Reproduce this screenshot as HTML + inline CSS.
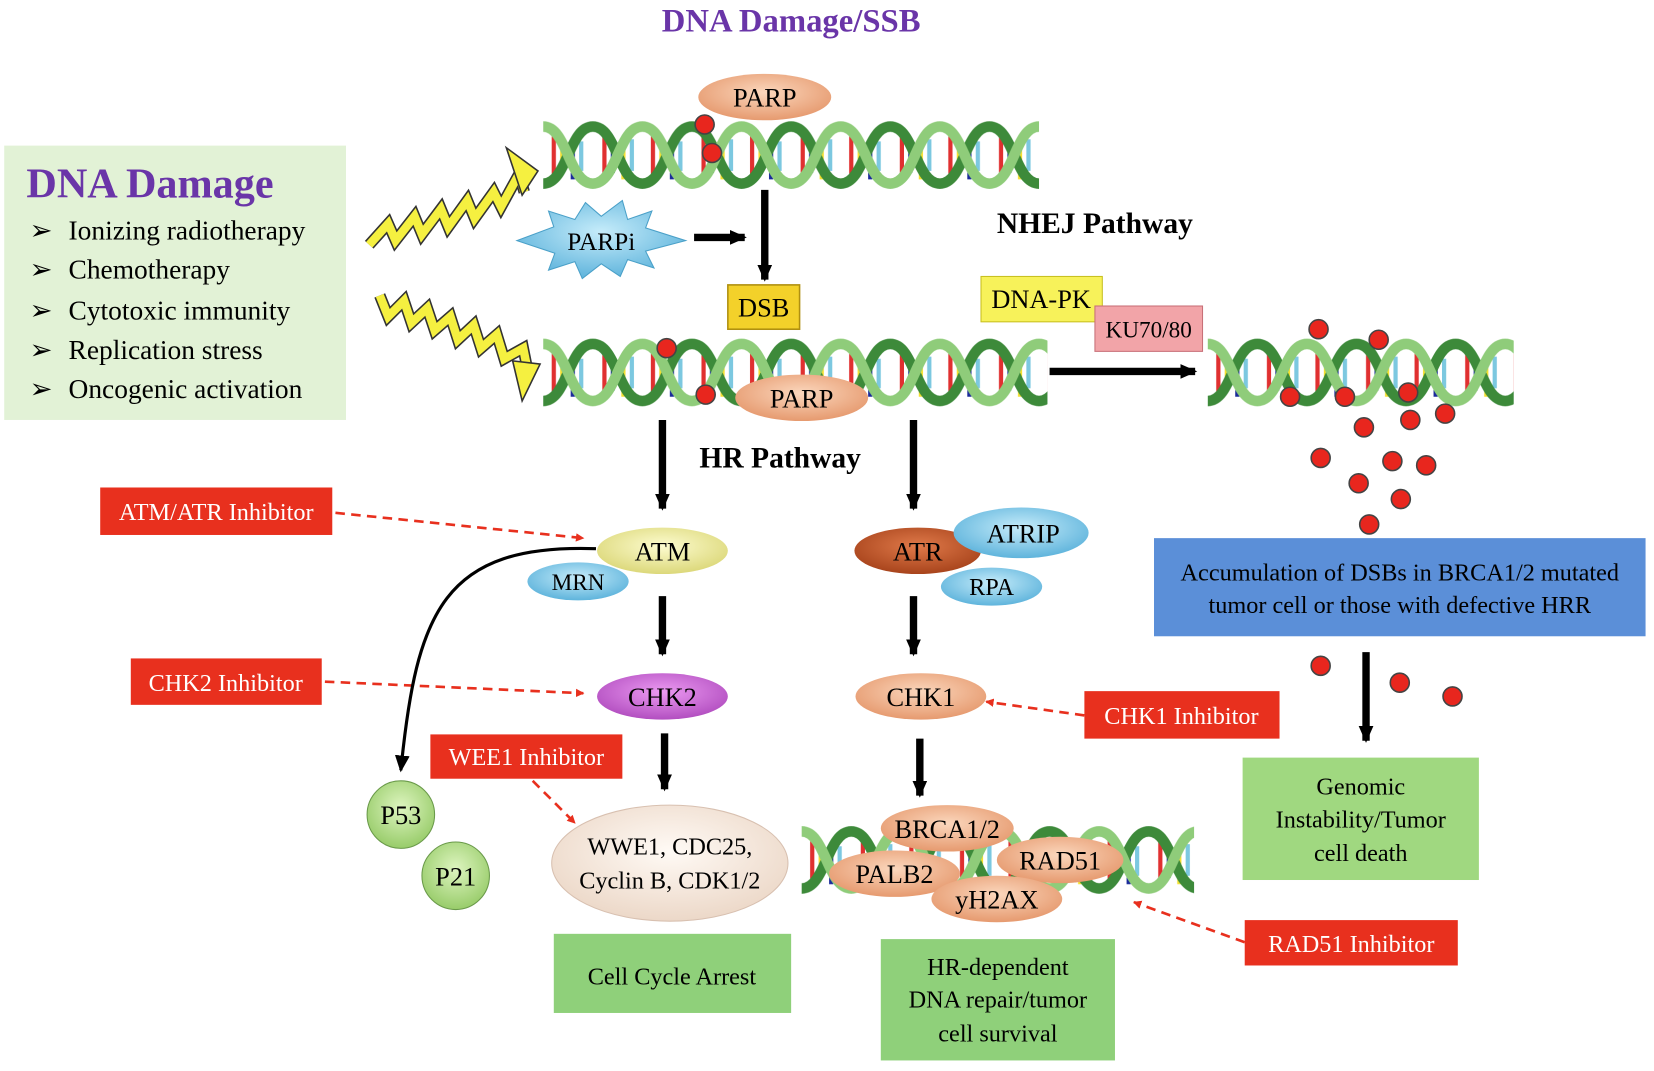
<!DOCTYPE html>
<html><head><meta charset="utf-8"><style>
html,body{margin:0;padding:0;background:#fff;}
svg{display:block;}
text{font-family:"Liberation Serif",serif;}
</style></head><body>
<svg width="1654" height="1071" viewBox="0 0 1568 1015" preserveAspectRatio="none" xmlns="http://www.w3.org/2000/svg">
<defs>
<pattern id="dna" x="0" y="0" width="94" height="66" patternUnits="userSpaceOnUse">
 <g stroke-width="4">
  <line x1="10" y1="14" x2="10" y2="52" stroke="#e03030"/>
  <line x1="18" y1="22" x2="18" y2="50" stroke="#f4e030"/>
  <line x1="28" y1="24" x2="28" y2="56" stroke="#1a2a9a"/>
  <line x1="36" y1="20" x2="36" y2="48" stroke="#7cc8e0"/>
  <line x1="58" y1="14" x2="58" y2="52" stroke="#e03030"/>
  <line x1="66" y1="20" x2="66" y2="50" stroke="#1a2a9a"/>
  <line x1="76" y1="22" x2="76" y2="56" stroke="#f4e030"/>
  <line x1="84" y1="18" x2="84" y2="48" stroke="#7cc8e0"/>
 </g>
 <path d="M0,60 C23,60 24,6 47,6 C70,6 71,60 94,60" fill="none" stroke="#3d8a3a" stroke-width="10"/>
 <path d="M0,6 C23,6 24,60 47,60 C70,60 71,6 94,6" fill="none" stroke="#8fcc7a" stroke-width="10"/>
</pattern>
<radialGradient id="peach" cx="50%" cy="40%" r="60%"><stop offset="0" stop-color="#fbd7bd"/><stop offset="1" stop-color="#e69a6f"/></radialGradient>
<radialGradient id="yel" cx="50%" cy="40%" r="60%"><stop offset="0" stop-color="#fdfcd0"/><stop offset="1" stop-color="#dcd87a"/></radialGradient>
<radialGradient id="blu" cx="50%" cy="40%" r="60%"><stop offset="0" stop-color="#c6ecfa"/><stop offset="1" stop-color="#5fb4dc"/></radialGradient>
<radialGradient id="pur" cx="50%" cy="40%" r="60%"><stop offset="0" stop-color="#ec9af2"/><stop offset="1" stop-color="#b24ec0"/></radialGradient>
<radialGradient id="org" cx="50%" cy="40%" r="60%"><stop offset="0" stop-color="#e07a4a"/><stop offset="1" stop-color="#a8441c"/></radialGradient>
<radialGradient id="grn" cx="50%" cy="40%" r="60%"><stop offset="0" stop-color="#def5c0"/><stop offset="1" stop-color="#98cc6a"/></radialGradient>
<radialGradient id="crm" cx="50%" cy="40%" r="60%"><stop offset="0" stop-color="#fffaf5"/><stop offset="1" stop-color="#ecd8c8"/></radialGradient>
<marker id="ra" markerWidth="8" markerHeight="8" refX="7" refY="4" orient="auto" markerUnits="userSpaceOnUse"><path d="M0,0 L8,4 L0,8 z" fill="#e8301e"/></marker>
<marker id="ka" markerWidth="16" markerHeight="14" refX="14" refY="7" orient="auto" markerUnits="userSpaceOnUse"><path d="M0,0 L16,7 L0,14 z" fill="#000"/></marker>
</defs>

<text x="750" y="30" text-anchor="middle" font-size="31" font-weight="bold" fill="#6a35a8">DNA Damage/SSB</text>

<rect x="4" y="138" width="324" height="260" fill="#e2f2d6"/>
<text x="25" y="187" font-size="40" font-weight="bold" fill="#6a35a8">DNA Damage</text>
<g font-size="26" fill="#000">
<text x="28" y="227">➢</text><text x="65" y="227">Ionizing radiotherapy</text>
<text x="28" y="264">➢</text><text x="65" y="264">Chemotherapy</text>
<text x="28" y="303">➢</text><text x="65" y="303">Cytotoxic immunity</text>
<text x="28" y="340">➢</text><text x="65" y="340">Replication stress</text>
<text x="28" y="377">➢</text><text x="65" y="377">Oncogenic activation</text>
</g>

<polyline points="350,232 368,212 375,228 393,205 400,222 418,198 425,215 443,190 450,207 468,182 475,196 492,165 497,182" fill="none" stroke="#333" stroke-width="11"/>
<polyline points="350,232 368,212 375,228 393,205 400,222 418,198 425,215 443,190 450,207 468,182 475,196 492,165 497,182" fill="none" stroke="#f5f040" stroke-width="8"/>
<path d="M480,140 L510,162 L495,185 z" fill="#f5f040" stroke="#333" stroke-width="1.5"/>
<polyline points="360,280 368,300 383,285 390,306 405,292 412,313 427,300 434,322 449,308 456,330 471,317 478,340 496,330 500,350" fill="none" stroke="#333" stroke-width="11"/>
<polyline points="360,280 368,300 383,285 390,306 405,292 412,313 427,300 434,322 449,308 456,330 471,317 478,340 496,330 500,350" fill="none" stroke="#f5f040" stroke-width="8"/>
<path d="M486,342 L512,345 L495,380 z" fill="#f5f040" stroke="#333" stroke-width="1.5"/>

<g transform="translate(515,114)"><rect x="0" y="0" width="470" height="66" fill="url(#dna)"/></g>
<g transform="translate(515,320)"><rect x="0" y="0" width="478" height="66" fill="url(#dna)"/></g>
<g transform="translate(1145,320)"><rect x="0" y="0" width="290" height="66" fill="url(#dna)"/></g>
<g transform="translate(760,782)"><rect x="0" y="0" width="372" height="66" fill="url(#dna)"/></g>

<g fill="#e8261e" stroke="#444" stroke-width="1.5">
<circle cx="668" cy="118" r="9"/><circle cx="675" cy="145" r="9"/><circle cx="632" cy="330" r="9"/><circle cx="669" cy="374" r="9"/>
<circle cx="1250" cy="312" r="9"/><circle cx="1307" cy="322" r="9"/><circle cx="1223" cy="376" r="9"/><circle cx="1275" cy="376" r="9"/><circle cx="1335" cy="372" r="9"/><circle cx="1370" cy="392" r="9"/><circle cx="1293" cy="405" r="9"/><circle cx="1337" cy="398" r="9"/><circle cx="1252" cy="434" r="9"/><circle cx="1320" cy="437" r="9"/><circle cx="1352" cy="441" r="9"/><circle cx="1288" cy="458" r="9"/><circle cx="1328" cy="473" r="9"/><circle cx="1298" cy="497" r="9"/>
<circle cx="1252" cy="631" r="9"/><circle cx="1327" cy="647" r="9"/><circle cx="1377" cy="660" r="9"/>
</g>

<ellipse cx="725" cy="92" rx="63" ry="22" fill="url(#peach)"/>
<text x="725" y="101" text-anchor="middle" font-size="25">PARP</text>
<ellipse cx="760" cy="377" rx="63" ry="22" fill="url(#peach)"/>
<text x="760" y="386" text-anchor="middle" font-size="25">PARP</text>

<polygon points="490,228 525,215 520,200 545,208 555,192 570,205 590,190 595,208 618,200 612,216 650,228 612,238 620,254 595,246 588,262 570,250 552,264 545,248 520,256 526,240" fill="url(#blu)" stroke="#4aa0c8" stroke-width="1"/>
<text x="570" y="237" text-anchor="middle" font-size="24">PARPi</text>

<g stroke="#000" stroke-width="7" marker-end="url(#ka)">
<line x1="725" y1="180" x2="725" y2="265"/>
<line x1="658" y1="225" x2="706" y2="225"/>
<line x1="995" y1="352" x2="1133" y2="352"/>
<line x1="628" y1="398" x2="628" y2="482"/>
<line x1="866" y1="398" x2="866" y2="482"/>
<line x1="628" y1="565" x2="628" y2="620"/>
<line x1="866" y1="565" x2="866" y2="620"/>
<line x1="630" y1="695" x2="630" y2="748"/>
<line x1="872" y1="700" x2="872" y2="754"/>
<line x1="1295" y1="618" x2="1295" y2="702"/>
</g>

<rect x="690" y="270" width="68" height="42" fill="#f3d12a" stroke="#b09010" stroke-width="1.5"/>
<text x="724" y="300" text-anchor="middle" font-size="25">DSB</text>

<text x="945" y="221" font-size="28" font-weight="bold">NHEJ Pathway</text>
<rect x="930" y="262" width="115" height="43" fill="#f7f25a" stroke="#c8c020" stroke-width="1"/>
<text x="987" y="292" text-anchor="middle" font-size="25">DNA-PK</text>
<rect x="1038" y="290" width="102" height="43" fill="#f2a4a8" stroke="#c87078" stroke-width="1"/>
<text x="1089" y="320" text-anchor="middle" font-size="22">KU70/80</text>

<text x="663" y="443" font-size="28" font-weight="bold">HR Pathway</text>

<g fill="#e8301e">
<rect x="95" y="462" width="220" height="45"/>
<rect x="124" y="624" width="181" height="44"/>
<rect x="408" y="696" width="182" height="42"/>
<rect x="1028" y="655" width="185" height="45"/>
<rect x="1180" y="872" width="202" height="43"/>
</g>
<g fill="#fff" font-size="23" text-anchor="middle">
<text x="205" y="493">ATM/ATR Inhibitor</text>
<text x="214" y="655">CHK2 Inhibitor</text>
<text x="499" y="725">WEE1 Inhibitor</text>
<text x="1120" y="686">CHK1 Inhibitor</text>
<text x="1281" y="902">RAD51 Inhibitor</text>
</g>
<g stroke="#e8301e" stroke-width="2.5" stroke-dasharray="9,6" fill="none" marker-end="url(#ra)">
<line x1="318" y1="486" x2="553" y2="510"/>
<line x1="308" y1="646" x2="553" y2="657"/>
<line x1="505" y1="740" x2="545" y2="780"/>
<line x1="1028" y1="678" x2="935" y2="665"/>
<line x1="1180" y1="893" x2="1075" y2="855"/>
</g>

<path d="M565,520 C420,515 395,580 380,730" fill="none" stroke="#000" stroke-width="3" marker-end="url(#ka)"/>

<ellipse cx="628" cy="522" rx="62" ry="22" fill="url(#yel)"/>
<text x="628" y="531" text-anchor="middle" font-size="25">ATM</text>
<ellipse cx="548" cy="551" rx="48" ry="18" fill="url(#blu)"/>
<text x="548" y="559" text-anchor="middle" font-size="22">MRN</text>
<ellipse cx="870" cy="522" rx="60" ry="22" fill="url(#org)"/>
<text x="870" y="531" text-anchor="middle" font-size="25">ATR</text>
<ellipse cx="968" cy="505" rx="64" ry="24" fill="url(#blu)"/>
<text x="970" y="514" text-anchor="middle" font-size="25">ATRIP</text>
<ellipse cx="940" cy="556" rx="48" ry="18" fill="url(#blu)"/>
<text x="940" y="564" text-anchor="middle" font-size="23">RPA</text>
<ellipse cx="628" cy="660" rx="62" ry="22" fill="url(#pur)"/>
<text x="628" y="669" text-anchor="middle" font-size="25">CHK2</text>
<ellipse cx="873" cy="660" rx="62" ry="22" fill="url(#peach)"/>
<text x="873" y="669" text-anchor="middle" font-size="25">CHK1</text>

<circle cx="380" cy="772" r="32" fill="url(#grn)" stroke="#6a9a4a"/>
<text x="380" y="781" text-anchor="middle" font-size="25">P53</text>
<circle cx="432" cy="830" r="32" fill="url(#grn)" stroke="#6a9a4a"/>
<text x="432" y="839" text-anchor="middle" font-size="25">P21</text>

<ellipse cx="635" cy="818" rx="112" ry="55" fill="url(#crm)" stroke="#d8c0b0"/>
<text x="635" y="810" text-anchor="middle" font-size="23">WWE1, CDC25,</text>
<text x="635" y="842" text-anchor="middle" font-size="23">Cyclin B, CDK1/2</text>

<ellipse cx="898" cy="785" rx="63" ry="22" fill="url(#peach)"/>
<text x="898" y="794" text-anchor="middle" font-size="25">BRCA1/2</text>
<ellipse cx="1005" cy="815" rx="60" ry="22" fill="url(#peach)"/>
<text x="1005" y="824" text-anchor="middle" font-size="25">RAD51</text>
<ellipse cx="848" cy="828" rx="62" ry="22" fill="url(#peach)"/>
<text x="848" y="837" text-anchor="middle" font-size="25">PALB2</text>
<ellipse cx="945" cy="852" rx="62" ry="22" fill="url(#peach)"/>
<text x="945" y="861" text-anchor="middle" font-size="25">yH2AX</text>

<rect x="525" y="885" width="225" height="75" fill="#8fd07a"/>
<text x="637" y="933" text-anchor="middle" font-size="23">Cell Cycle Arrest</text>
<rect x="835" y="890" width="222" height="115" fill="#8fd07a"/>
<g font-size="23" text-anchor="middle">
<text x="946" y="924">HR-dependent</text>
<text x="946" y="955">DNA repair/tumor</text>
<text x="946" y="987">cell survival</text>
</g>
<rect x="1094" y="510" width="466" height="93" fill="#5b8fd8"/>
<text x="1327" y="550" text-anchor="middle" font-size="23">Accumulation of DSBs in BRCA1/2 mutated</text>
<text x="1327" y="581" text-anchor="middle" font-size="23">tumor cell or those with defective HRR</text>
<rect x="1178" y="718" width="224" height="116" fill="#a0d880"/>
<g font-size="23" text-anchor="middle">
<text x="1290" y="753">Genomic</text>
<text x="1290" y="784">Instability/Tumor</text>
<text x="1290" y="816">cell death</text>
</g>
</svg>
</body></html>
